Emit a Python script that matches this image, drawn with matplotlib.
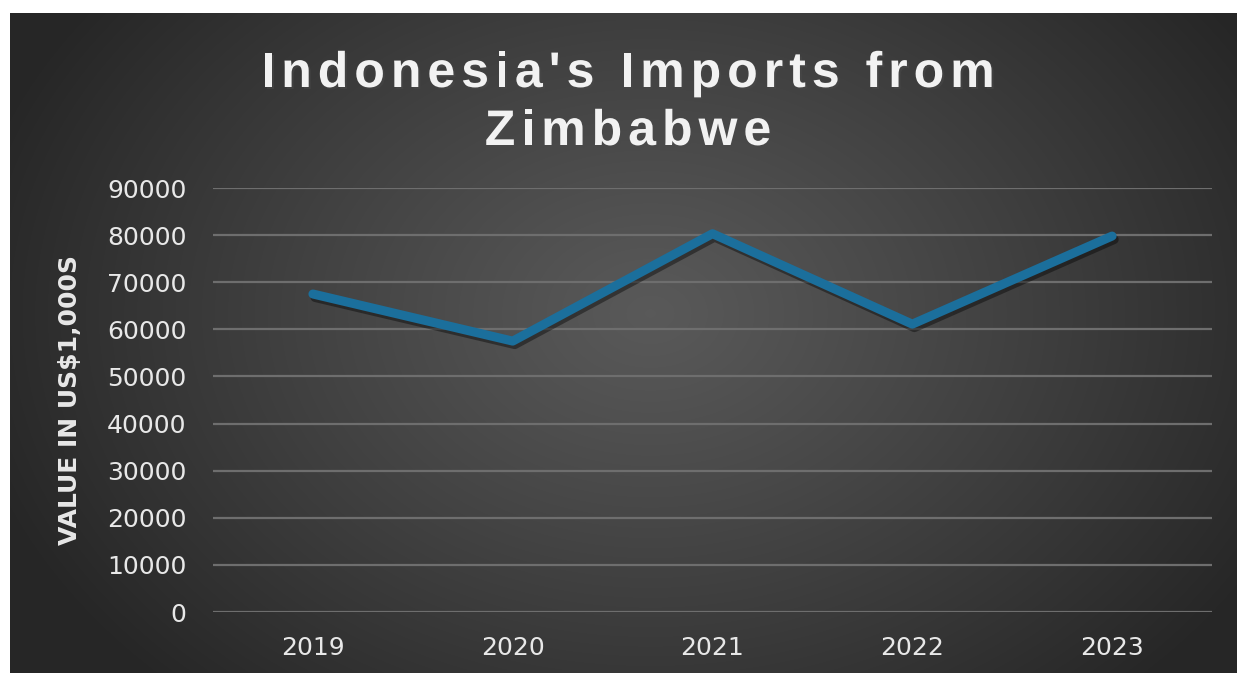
import numpy as np
import matplotlib
matplotlib.use("Agg")
import matplotlib.pyplot as plt
import matplotlib.patheffects as pe
from matplotlib.font_manager import FontProperties, findfont, get_font

# data
years = ["2019", "2020", "2021", "2022", "2023"]
imports = [67500, 57500, 80300, 61100, 79800]
yticks = [0, 10000, 20000, 30000, 40000, 50000, 60000, 70000, 80000, 90000]
title_lines = ["Indonesia's Imports from", "Zimbabwe"]

W, H = 1237, 673
fig = plt.figure(figsize=(W / 100, H / 100), dpi=100)
fig.patch.set_facecolor("white")

# dark chart area with a radial gradient
bg = fig.add_axes([10 / W, 0, (W - 10) / W, (H - 13) / H])
bg.set_axis_off()
yy, xx = np.mgrid[0:660, 0:1227]
cx, cy = 640, 300
r = np.sqrt(((xx - cx) / 700.0) ** 2 + ((yy - cy) / 520.0) ** 2)
r = np.clip(r, 0, 1)
shade = 0.35 - (0.35 - 0.15) * r ** 1.1
img = np.dstack([shade, shade, shade])
bg.imshow(img, aspect="auto", extent=[0, 1, 0, 1], origin="upper")
bg.set_xlim(0, 1)
bg.set_ylim(0, 1)

ax = fig.add_axes([213 / W, (H - 612) / H, 999 / W, 424 / H])
ax.patch.set_alpha(0)
x = np.arange(len(years))
ax.plot(x, imports, color="#1b6f9c", lw=6.5, solid_joinstyle="round",
        solid_capstyle="round",
        path_effects=[pe.SimpleLineShadow(offset=(1.5, -2.5), shadow_color="black", alpha=0.4),
                      pe.Normal()], zorder=3)
ax.set_xlim(-0.5, len(years) - 0.5)
ax.set_ylim(0, 90000)
ax.set_yticks(yticks)
ax.set_yticklabels([str(v) for v in yticks])
ax.set_xticks(x)
ax.set_xticklabels(years)
ax.grid(axis="y", color="#6e6e6e", lw=1.6)
ax.set_axisbelow(True)
for s in ax.spines.values():
    s.set_visible(False)
ax.tick_params(axis="y", length=0, pad=19, labelsize=18, labelcolor="#e8e8e8")
ax.tick_params(axis="x", length=0, pad=17, labelsize=18, labelcolor="#e8e8e8")

fig.text(70 / W, 1 - 400 / H, "VALUE IN US$1,000S", rotation=90, ha="center", va="center",
         fontsize=18, fontweight="bold", color="#e8e8e8")

# title with letter spacing, placed char by char
tsize = 36
prop = FontProperties(family="Liberation Sans", weight="bold", size=tsize)
font = get_font(findfont(prop))
font.set_size(tsize, 100)
track = 6.0
shadow = [pe.SimplePatchShadow(offset=(1.5, -1.5), alpha=0.5), pe.Normal()]
for line, base in zip(title_lines, [87, 145]):
    adv = [font.load_char(ord(c)).linearHoriAdvance / 65536.0 for c in line]
    total = sum(adv) + track * (len(line) - 1)
    px = 628 - total / 2
    for c, a in zip(line, adv):
        if c != " ":
            fig.text(px / W, 1 - base / H, c, ha="left", va="baseline", fontproperties=prop,
                     color="#f2f2f2", path_effects=shadow)
        px += a + track

fig.savefig("out.png", dpi=100, facecolor=fig.get_facecolor())
